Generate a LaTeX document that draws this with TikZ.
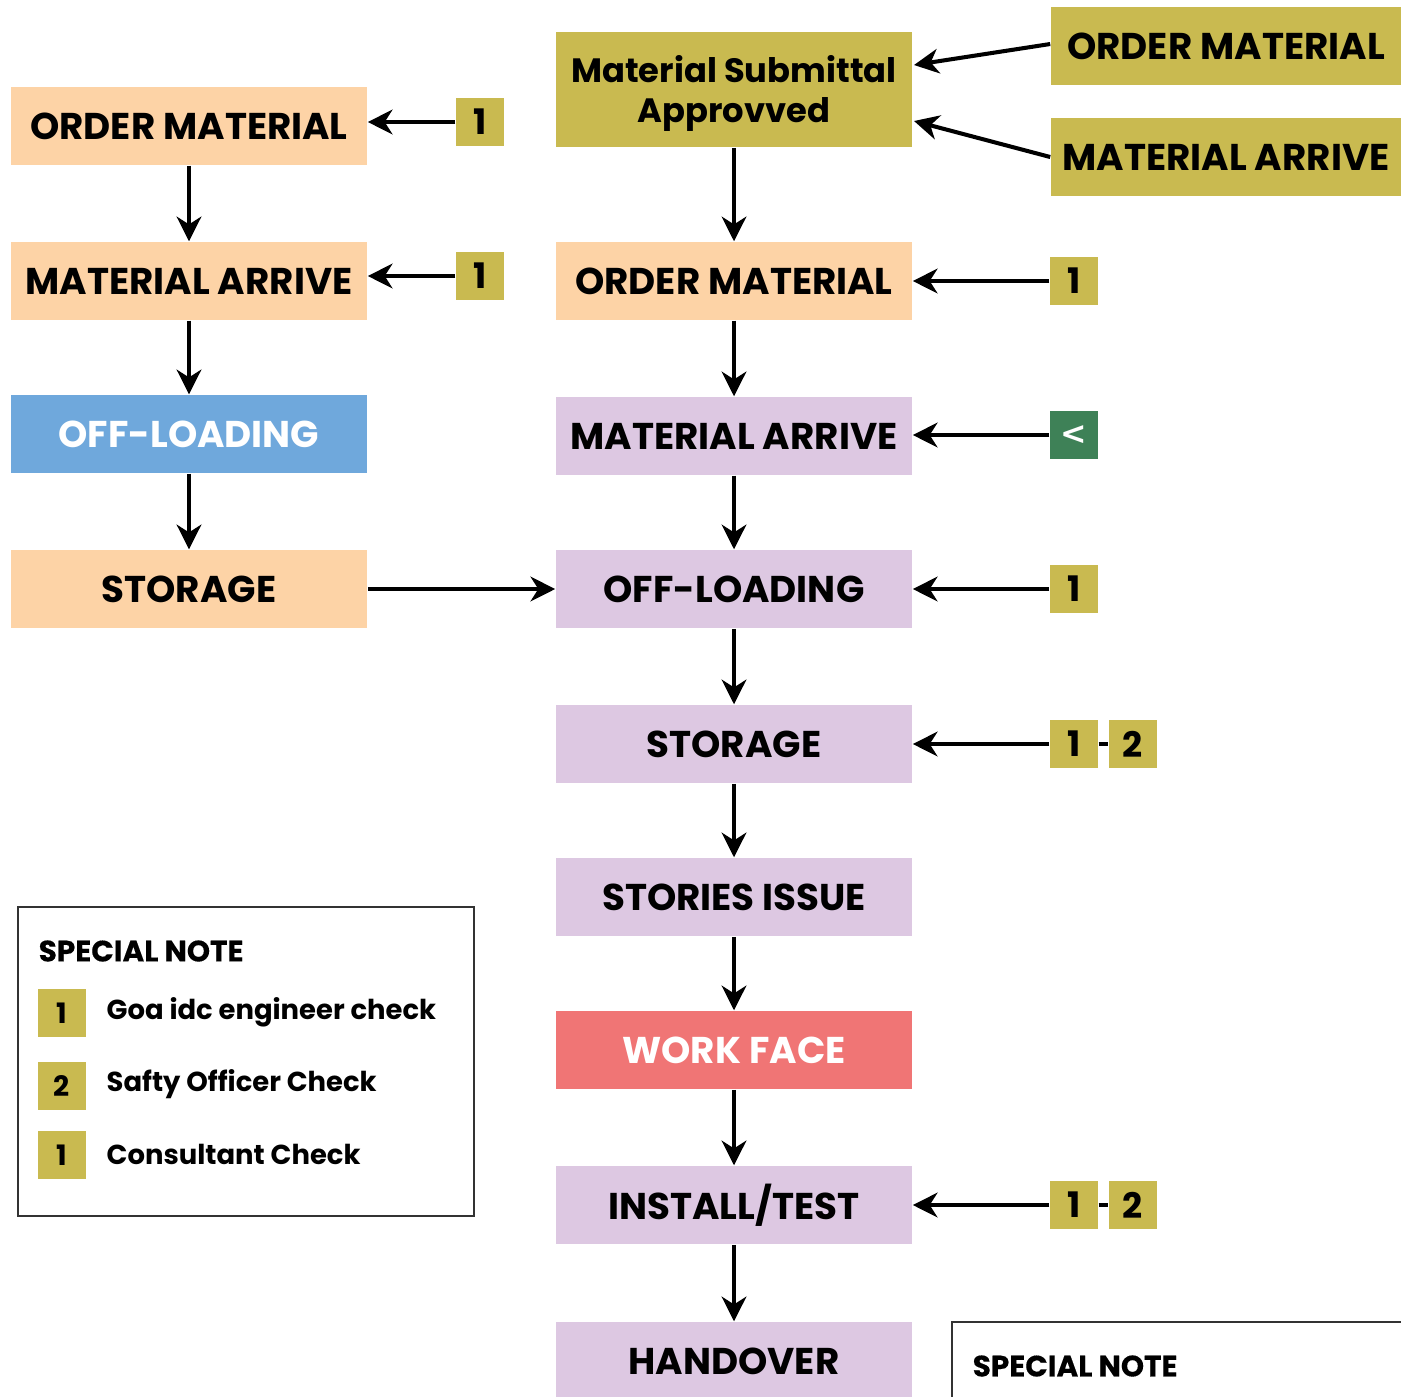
\documentclass[tikz,border=0pt]{standalone}
\usepackage{fontspec}
\setmainfont{Poppins}
\newfontfamily\heavyfont{Poppins}[FakeBold=0.35]
\newfontfamily\dvfont{DejaVu Sans}
\usetikzlibrary{arrows.meta}
\definecolor{peach}{HTML}{FDD3A6}
\definecolor{olivebox}{HTML}{C9BA50}
\definecolor{bluebox}{HTML}{6FA8DC}
\definecolor{lavender}{HTML}{DDC8E2}
\definecolor{redbox}{HTML}{F07575}
\definecolor{greenbox}{HTML}{3E8157}
\tikzset{
 box/.style={minimum width=3.56cm, minimum height=0.78cm, inner sep=0pt, font=\bfseries\fontsize{10.6}{12}\selectfont, text=black, align=center},
 sq/.style={fill=olivebox, minimum size=0.48cm, inner sep=0pt, font=\bfseries\fontsize{10}{11}\selectfont},
 arr/.style={line width=1.15pt, -{Stealth[length=7pt,width=7pt,inset=2.2pt]}},
 lnk/.style={line width=1.15pt},
 legtext/.style={anchor=west, inner sep=0pt, font=\bfseries\fontsize{7.8}{10}\selectfont},
 legtitle/.style={anchor=west, inner sep=0pt, font=\heavyfont\bfseries\fontsize{8.4}{10}\selectfont},
 legsq/.style={fill=olivebox, minimum size=0.48cm, inner sep=0pt, font=\bfseries\fontsize{8}{10}\selectfont}
}
\begin{document}
\begin{tikzpicture}[x=0.01cm,y=-0.01cm]
\useasboundingbox (0,0) rectangle (1401,1396);
% left column
\node[box, fill=peach] (lo) at (189,126) {ORDER MATERIAL};
\node[box, fill=peach] (la) at (189,281) {MATERIAL ARRIVE};
\node[box, fill=bluebox, text=white] (lf) at (189,434) {OFF-LOADING};
\node[box, fill=peach] (ls) at (189,589) {STORAGE};
\node[sq] (l1) at (480,122) {1};
\node[sq] (l2) at (480,276) {1};
% middle column
\node[box, fill=olivebox, minimum height=1.15cm] (ms) at (734,89.5) {};
\node[inner sep=0pt, align=center, font=\bfseries\fontsize{9.6}{11.4}\selectfont] (mstext) at ([yshift=-0.04cm]ms.center) {Material Submittal\\Approvved};
\node[box, fill=peach] (mo) at (734,281) {ORDER MATERIAL};
\node[box, fill=lavender] (ma) at (734,436) {MATERIAL ARRIVE};
\node[box, fill=lavender] (mf) at (734,589) {OFF-LOADING};
\node[box, fill=lavender] (mst) at (734,744) {STORAGE};
\node[box, fill=lavender] (mi) at (734,897) {STORIES ISSUE};
\node[box, fill=redbox, text=white] (mw) at (734,1050) {WORK FACE};
\node[box, fill=lavender] (mt) at (734,1205) {INSTALL/TEST};
\node[box, fill=lavender] (mh) at (734,1361) {HANDOVER};
% top right
\node[box, fill=olivebox, minimum width=3.5cm] (ro) at (1226,46) {ORDER MATERIAL};
\node[box, fill=olivebox, minimum width=3.5cm] (ra) at (1226,157) {MATERIAL ARRIVE};
% right squares
\node[sq] (r1) at (1074,281) {1};
\node[sq, fill=greenbox, text=white, font=\dvfont\bfseries\fontsize{9}{10}\selectfont] (r2) at (1074,435) {<};
\node[sq] (r3) at (1074,589) {1};
\node[sq] (r4) at (1074,744) {1};
\node[sq] (r4b) at (1133,744) {2};
\node[sq] (r5) at (1074,1205) {1};
\node[sq] (r5b) at (1133,1205) {2};
% arrows left
\draw[arr] (lo) -- (la);
\draw[arr] (la) -- (lf);
\draw[arr] (lf) -- (ls);
\draw[arr] (l1) -- (l1 -| lo.east);
\draw[arr] (l2) -- (l2 -| la.east);
\draw[arr] (ls) -- (mf);
% arrows middle
\draw[arr] (ms) -- (mo);
\draw[arr] (mo) -- (ma);
\draw[arr] (ma) -- (mf);
\draw[arr] (mf) -- (mst);
\draw[arr] (mst) -- (mi);
\draw[arr] (mi) -- (mw);
\draw[arr] (mw) -- (mt);
\draw[arr] (mt) -- (mh);
% top right arrows
\coordinate (t1) at (914,65);
\coordinate (t2) at (914,121);
\draw[arr] (ro.west) ++(0,-2) -- (t1);
\draw[arr] (ra.west) -- (t2);
% right arrows
\draw[arr] (r1) -- (r1 -| mo.east);
\draw[arr] (r2) -- (r2 -| ma.east);
\draw[arr] (r3) -- (r3 -| mf.east);
\draw[arr] (r4) -- (r4 -| mst.east);
\draw[arr] (r5) -- (r5 -| mt.east);
\draw[lnk] (r4) -- (r4b);
\draw[lnk] (r5) -- (r5b);
% legend
\node[draw=black!80, line width=0.6pt, minimum width=4.56cm, minimum height=3.09cm, inner sep=0pt] (leg) at (246,1061.5) {};
\node[legtitle] (lt) at (38,951) {SPECIAL NOTE};
\node[legsq] (k1) at (62,1013) {1};
\node[legsq] (k2) at (62,1086) {2};
\node[legsq] (k3) at (62,1155) {1};
\node[legtext] (k1t) at (106,1012) {Goa idc engineer check};
\node[legtext] (k2t) at (106,1084) {Safty Officer Check};
\node[legtext] (k3t) at (106,1154) {Consultant Check};
% bottom right partial legend
\node[draw=black!80, line width=0.6pt, minimum width=5cm, minimum height=1.2cm, inner sep=0pt, anchor=north west] (leg2) at (951,1321) {};
\node[legtitle] (lt2) at (972,1366) {SPECIAL NOTE};
\end{tikzpicture}
\end{document}
